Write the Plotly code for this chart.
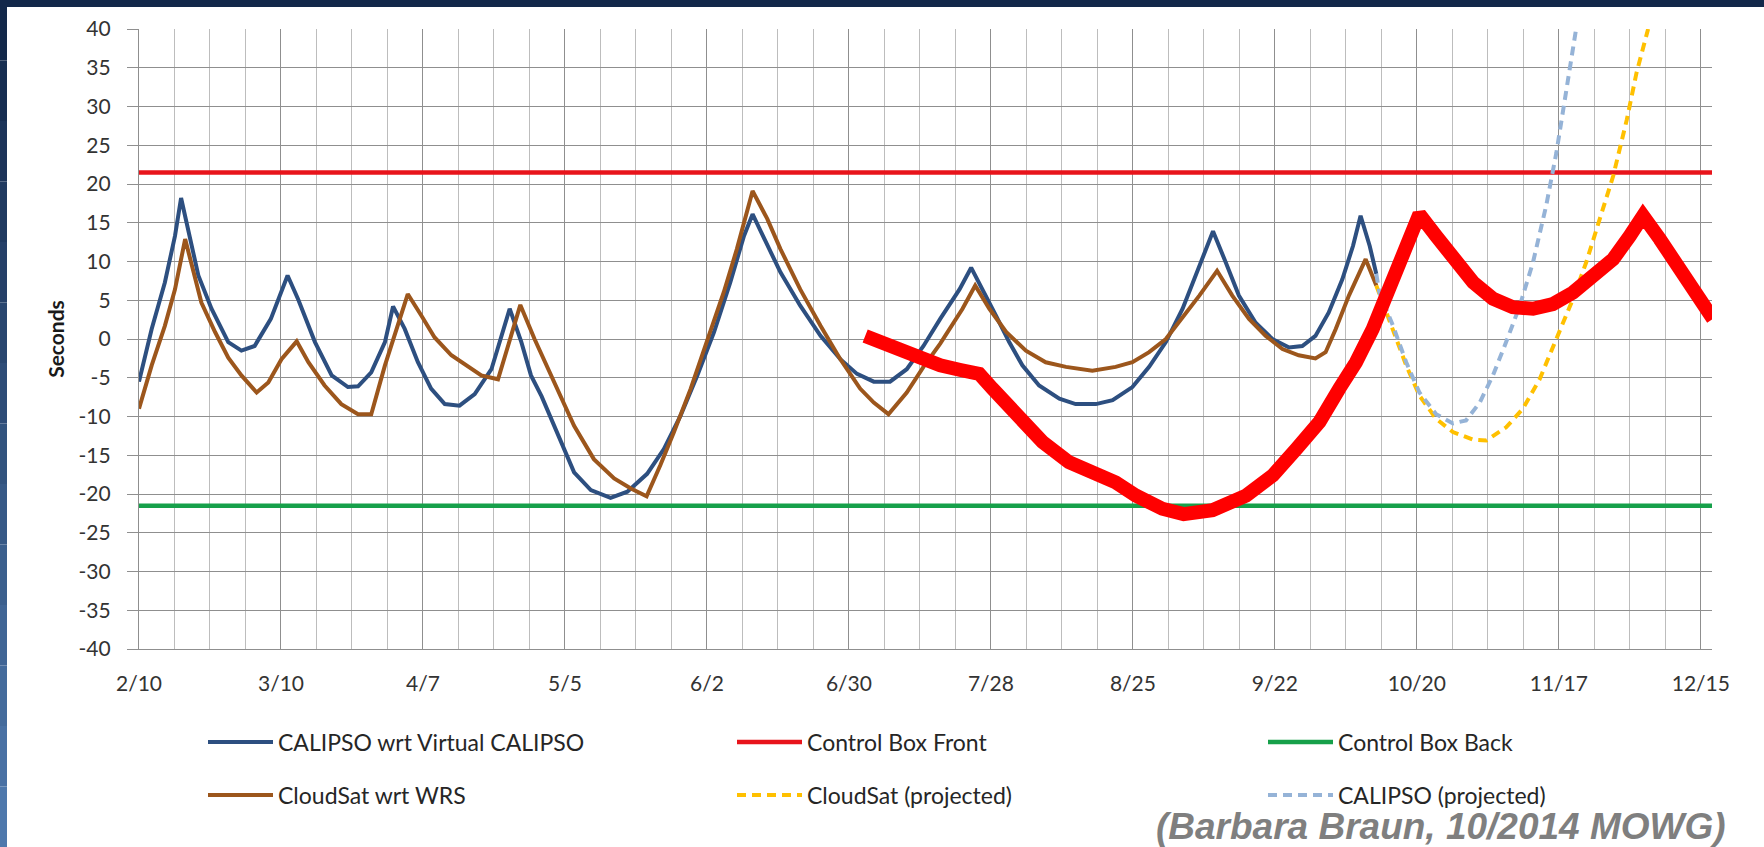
import plotly.graph_objects as go

# ---------------- data (day offsets from 2/10) ----------------
tick_days = [0, 28, 56, 84, 112, 140, 168, 196, 224, 252, 280, 308]
tick_labels = ["2/10", "3/10", "4/7", "5/5", "6/2", "6/30", "7/28", "8/25", "9/22", "10/20", "11/17", "12/15"]
y_ticks = [40, 35, 30, 25, 20, 15, 10, 5, 0, -5, -10, -15, -20, -25, -30, -35, -40]
y_tick_labels = ["40", "35", "30", "25", "20", "15", "10", "5", "0", "-5", "-10", "-15", "-20", "-25", "-30", "-35", "-40"]

calipso_days = [0, 2.5, 5.1, 7.1, 8.3, 11.7, 14.3, 17.6, 20.2, 22.8, 26, 29.3,
                31.4, 34.7, 38, 41.2, 43.2, 45.8, 48.5, 50.1,
                52.4, 55, 57.6, 60.3, 63.2, 66.2, 69.5, 71.4, 73.1,
                75.4, 77.3, 79.4, 81.8, 85.8, 89.1, 93, 96.3, 100.2, 103.5, 106.8, 110.1, 113.4, 116.6, 119.3, 121,
                123.9, 126.5, 130.4, 134.4, 138.3, 141.6, 144.9, 148.1, 151.4, 154.7, 158, 161.8, 164.1,
                166.4, 169, 171.6, 174.2, 177.5, 181.5, 184.7, 188.7, 192, 195.9, 199.2, 202.5, 205.8, 209.1, 211.8,
                214.3, 216.9, 220.2, 223.5, 226.8, 229.4, 232, 234.6, 237.3, 239.4, 240.9,
                242.7, 244]
calipso_vals = [-5.5, 1.3, 7.3, 13.3, 18.2, 8.2, 3.9, -0.4, -1.5, -0.9, 2.6, 8.2,
                5.1, -0.4, -4.7, -6.2, -6.1, -4.3, -0.4, 4.2,
                1.3, -3.0, -6.4, -8.4, -8.6, -7.1, -3.9, 0.4, 3.9,
                -0.4, -4.7, -7.4, -11.2, -17.2, -19.5, -20.5, -19.7, -17.4, -14.2, -9.9, -4.7, 0.9, 7.3, 13.3, 16.1,
                12.0, 8.6, 4.3, 0.4, -2.6, -4.5, -5.5, -5.5, -3.9, -0.9, 2.6, 6.4, 9.2,
                6.4, 3.0, -0.4, -3.4, -6.0, -7.7, -8.4, -8.4, -7.9, -6.2, -3.6, -0.4, 3.9, 9.4, 13.9,
                9.9, 5.6, 2.1, 0.0, -1.1, -0.9, 0.4, 3.4, 7.7, 12.0, 15.9,
                12.0, 8.4]

cloudsat_days = [0, 2.5, 5.1, 7.1, 9.1, 12.3, 15, 17.6, 20.2, 23.2, 25.5, 28.1, 31.1,
                 33.4, 36.6, 39.9, 43.2, 45.8, 48.5, 51.1, 53,
                 55.7, 58.3, 61.6, 64.2, 67.5, 70.8, 73.4, 75.2,
                 78, 80.5, 82.5, 85.8, 89.7, 93.7, 97, 100.1, 102.8, 105.5, 108.8, 112, 115.3, 117.9, 121,
                 123.9, 126.5, 130.4, 134.4, 138.3, 142.2, 144.9, 147.8, 151.4, 154.7, 158, 162.4, 164.9,
                 167.7, 171, 174.9, 178.8, 182.8, 188, 192.6, 195.9, 199.2, 202.5, 205.8, 209.1, 212.6,
                 215.6, 218.9, 222.2, 225.5, 228.7, 232, 234, 236, 238.6, 241.9, 244]
cloudsat_vals = [-9.0, -3.4, 1.7, 6.4, 12.9, 4.7, 0.9, -2.4, -4.7, -6.9, -5.6, -2.6, -0.3,
                 -3.0, -6.0, -8.4, -9.7, -9.7, -3.4, 1.7, 5.8,
                 3.0, 0.2, -2.1, -3.2, -4.7, -5.2, 0.4, 4.4,
                 0.0, -3.5, -6.4, -11.2, -15.5, -18.0, -19.3, -20.3, -16.3, -12.0, -6.4, -0.4, 6.0, 11.6, 19.1,
                 15.5, 11.6, 6.4, 1.7, -2.6, -6.4, -8.2, -9.7, -6.9, -3.6, -0.6, 3.9, 6.9,
                 3.9, 0.9, -1.5, -3.0, -3.6, -4.1, -3.6, -3.0, -1.7, 0.0, 2.8, 5.6, 8.8,
                 5.6, 2.6, 0.4, -1.3, -2.1, -2.5, -1.7, 1.3, 5.6, 10.3, 6.9]

cloudsat_proj_days = [244, 247.3, 249.9, 252.5, 255.8, 259.1, 263.1, 265.7, 269.6, 272.9, 276.2,
                      279.5, 282.8, 285.4, 288.1, 290.7, 293.4, 295.3, 297.6]
cloudsat_proj_vals = [6.9, 1.3, -3.4, -7.3, -10.3, -12.0, -13.0, -13.1, -11.4, -9.0, -5.2,
                      0.0, 5.2, 9.9, 15.5, 21.0, 28.3, 34.3, 40.0]

calipso_proj_days = [244, 244.6, 247.3, 249.9, 252.5, 255.8, 259.1, 261.7, 264.4, 267, 269.6,
                     272.3, 274.9, 277.5, 279.5, 281.5, 283.4]
calipso_proj_vals = [8.4, 6.0, 1.7, -3.0, -6.9, -9.7, -10.9, -10.5, -8.2, -4.7, -0.4,
                     4.3, 9.9, 17.2, 24.0, 32.6, 40.0]

# hand-drawn red annotation curve
sketch_days = [143.2, 148.1, 152.7, 158, 162, 165.7, 168.3, 172.9, 178.2, 183.4, 189.3, 192.6, 196.6,
               201.8, 206, 211.7, 218.3, 223.6, 228.2, 232.8, 236.7, 240, 243.3, 246.6, 249.9, 252.5,
               255.8, 259.8, 263.1, 267, 270.9, 274.9, 278.8, 282.8, 286.7, 290.7, 294, 296.6,
               299.9, 303.2, 306.5, 309.1, 310.4]
sketch_vals = [0.4, -0.9, -2.1, -3.4, -4.0, -4.5, -6.4, -9.9, -13.3, -15.9, -17.6, -18.5, -20.2,
               -21.9, -22.6, -22.1, -20.2, -17.6, -14.2, -10.7, -6.4, -3.0, 1.3, 6.4, 12.4, 16.1,
               13.3, 9.9, 7.3, 5.2, 4.1, 3.9, 4.5, 6.0, 7.9, 10.3, 13.3, 15.9,
               12.9, 9.9, 6.9, 4.3, 2.6]

box_days = [0, 310.4]
box_front = [21.5, 21.5]
box_back = [-21.5, -21.5]

# ---------------- figure ----------------
W, H = 1764, 847
L, R, T, B = 139, 52, 29, 198
PW, PH = W - L - R, H - T - B

def px(xp):
    return (xp - L) / PW

def py(yp):
    return (H - B - yp) / PH

FONT = "Lato, 'Open Sans', sans-serif"
GRID = "#8f8f8f"
MINOR = "#bdbdbd"

fig = go.Figure()

fig.add_trace(go.Scatter(x=calipso_days, y=calipso_vals, mode="lines", name="CALIPSO wrt Virtual CALIPSO",
                         line=dict(color="#2d4f80", width=4), legend="legend"))
fig.add_trace(go.Scatter(x=box_days, y=box_front, mode="lines", name="Control Box Front",
                         line=dict(color="#e8141b", width=4.5), legend="legend2"))
fig.add_trace(go.Scatter(x=box_days, y=box_back, mode="lines", name="Control Box Back",
                         line=dict(color="#16a04a", width=4.5), legend="legend3"))
fig.add_trace(go.Scatter(x=cloudsat_days, y=cloudsat_vals, mode="lines", name="CloudSat wrt WRS",
                         line=dict(color="#9c561c", width=4), legend="legend4"))
fig.add_trace(go.Scatter(x=cloudsat_proj_days, y=cloudsat_proj_vals, mode="lines", name="CloudSat (projected)",
                         line=dict(color="#ffc000", width=4, dash="9px,6px"), legend="legend5"))
fig.add_trace(go.Scatter(x=calipso_proj_days, y=calipso_proj_vals, mode="lines", name="CALIPSO (projected)",
                         line=dict(color="#95b3d7", width=4, dash="9px,6px"), legend="legend6"))
fig.add_trace(go.Scatter(x=sketch_days, y=sketch_vals, mode="lines", showlegend=False,
                         line=dict(color="#ff0000", width=14), hoverinfo="skip"))

legend_common = dict(orientation="h", xanchor="left", yanchor="middle",
                     itemwidth=65, bgcolor="rgba(0,0,0,0)",
                     font=dict(family=FONT, size=23, color="#262626"))
col_x = [203, 732, 1263]
row_y = [742, 795]

# frame decoration (navy slide border)
shapes = [dict(type="rect", xref="paper", yref="paper", x0=px(0), x1=px(W), y0=py(7), y1=py(0),
               fillcolor="#13284a", line=dict(width=0), layer="above")]
nseg = 14
c0 = (19, 40, 74)
c1 = (78, 120, 172)
for i in range(nseg):
    t = i / (nseg - 1)
    col = "rgb(%d,%d,%d)" % tuple(int(a + (b - a) * t) for a, b in zip(c0, c1))
    shapes.append(dict(type="rect", xref="paper", yref="paper", x0=px(0), x1=px(7),
                       y0=py(H * (i + 1) / nseg), y1=py(H * i / nseg),
                       fillcolor=col, line=dict(width=0), layer="above"))

fig.update_layout(
    width=W, height=H,
    margin=dict(l=L, r=R, t=T, b=B, pad=0, autoexpand=False),
    paper_bgcolor="white", plot_bgcolor="white",
    font=dict(family=FONT, size=21, color="#333333"),
    showlegend=True,
    legend=dict(legend_common, x=px(col_x[0]), y=py(row_y[0])),
    legend2=dict(legend_common, x=px(col_x[1]), y=py(row_y[0])),
    legend3=dict(legend_common, x=px(col_x[2]), y=py(row_y[0])),
    legend4=dict(legend_common, x=px(col_x[0]), y=py(row_y[1])),
    legend5=dict(legend_common, x=px(col_x[1]), y=py(row_y[1])),
    legend6=dict(legend_common, x=px(col_x[2]), y=py(row_y[1])),
    shapes=shapes,
    annotations=[dict(text="(Barbara Braun, 10/2014 MOWG)", xref="paper", yref="paper",
                      x=px(1728), y=py(826), xanchor="right", yanchor="middle", showarrow=False,
                      font=dict(family="Liberation Sans, Arial, sans-serif", size=37, color="#7f7f7f",
                                weight="bold", style="italic"))],
)

fig.update_xaxes(range=[box_days[0], box_days[1] - 0.2], tickmode="array", tickvals=tick_days, ticktext=tick_labels,
                 showgrid=True, gridcolor=GRID, gridwidth=1.4, zeroline=False,
                 showline=True, linecolor=GRID, linewidth=1.4, ticks="", ticklabelstandoff=16,
                 tickfont=dict(family=FONT, size=21, color="#333333"),
                 minor=dict(tickmode="linear", tick0=0, dtick=7, showgrid=True, gridcolor=MINOR, gridwidth=1.3))
fig.update_yaxes(range=[-40, 40], tickmode="array", tickvals=y_ticks, ticktext=y_tick_labels,
                 showgrid=True, gridcolor=GRID, gridwidth=1.4, zeroline=False,
                 showline=True, linecolor=GRID, linewidth=1.4,
                 ticks="outside", ticklen=11, tickcolor=GRID, tickwidth=1.4, ticklabelstandoff=12,
                 tickfont=dict(family=FONT, size=21, color="#333333"),
                 title=dict(text="<b>Seconds</b>", standoff=8, font=dict(family=FONT, size=21, color="#1a1a1a")))

fig.write_html("out.html", config={"displayModeBar": False},
               post_script="document.body.style.margin='0';document.body.style.overflow='hidden';")
